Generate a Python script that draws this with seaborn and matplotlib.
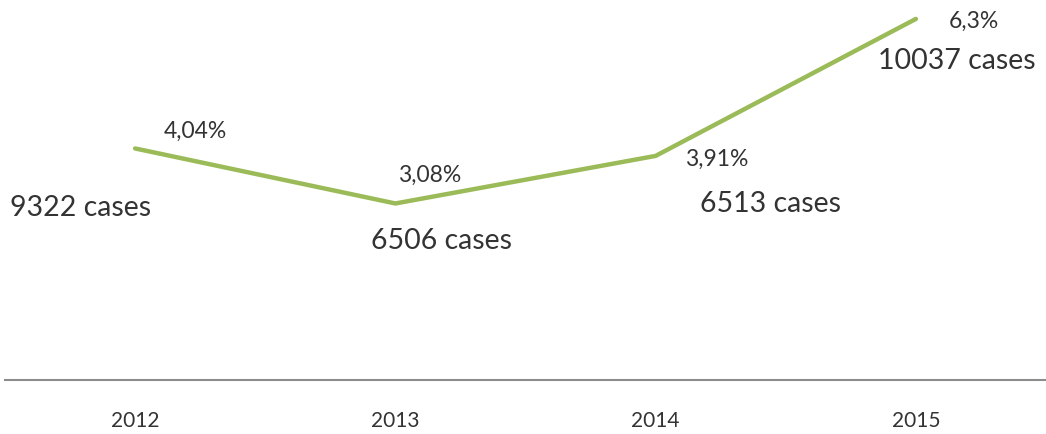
import matplotlib
matplotlib.use("Agg")
import matplotlib.pyplot as plt
import seaborn as sns
import pandas as pd

years = ["2012", "2013", "2014", "2015"]
share_pct = [4.04, 3.08, 3.91, 6.3]
share_labels = ["4,04%", "3,08%", "3,91%", "6,3%"]
cases = [9322, 6506, 6513, 10037]

# label offsets from each point, in pixels (dx, dy)
pct_offsets = [(60, 17), (34, 28), (61, -3), (58, -2)]
case_offsets = [(-55, -60), (46, -38), (115, -48), (41, -42)]

sns.set_theme(style="white")
plt.rcParams["font.family"] = ["Lato", "DejaVu Sans"]

df = pd.DataFrame({"year": years, "share": share_pct})

fig = plt.figure(figsize=(10.46, 4.34), dpi=100)
ax = fig.add_axes([5 / 1046, 54 / 434, 1041 / 1046, 380 / 434])

sns.lineplot(data=df, x="year", y="share", ax=ax, color="#9BBB59",
             linewidth=3.2, legend=False)

ax.set_xlim(-0.5, 3.5)
ax.set_ylim(0, 6.63)

for i, (p, lab, c) in enumerate(zip(share_pct, share_labels, cases)):
    ax.annotate(lab, (i, p), xytext=pct_offsets[i], textcoords="offset pixels",
                ha="center", va="center", fontsize=16.5, color="#333333")
    ax.annotate(f"{c} cases", (i, p), xytext=case_offsets[i],
                textcoords="offset pixels", ha="center", va="center",
                fontsize=20.5, color="#333333")

for side in ["top", "right", "left"]:
    ax.spines[side].set_visible(False)
ax.spines["bottom"].set_color("#8c8c8c")
ax.spines["bottom"].set_linewidth(1.5)

ax.set_yticks([])
ax.set_xlabel("")
ax.set_ylabel("")
ax.tick_params(axis="x", length=0, pad=22, labelsize=15, labelcolor="#333333")

fig.savefig("out.png", dpi=100)
